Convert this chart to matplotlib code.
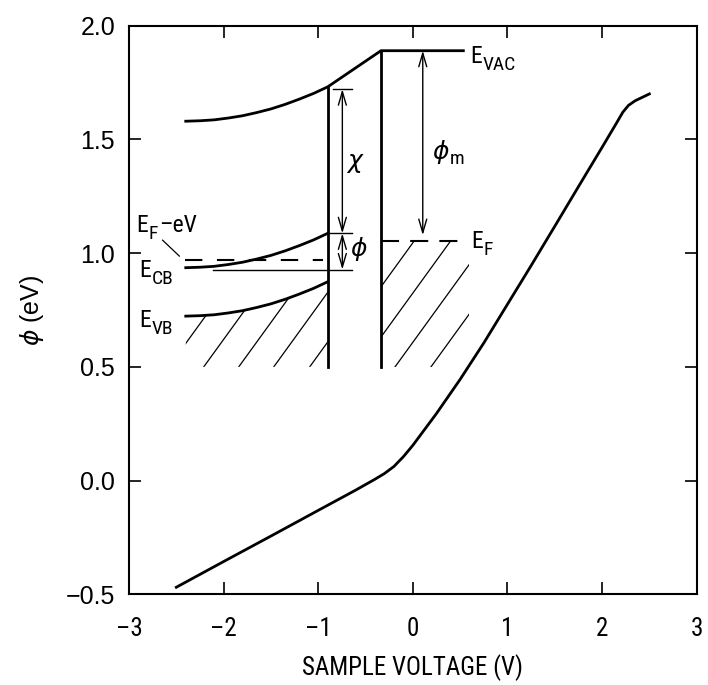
import os
import matplotlib
matplotlib.use("Agg")
import matplotlib.pyplot as plt
from matplotlib import font_manager
from matplotlib.font_manager import FontProperties
from matplotlib.patches import Polygon, FancyArrowPatch

plt.rcParams["lines.scale_dashes"] = False
plt.rcParams["mathtext.fontset"] = "dejavusans"


def find_narrow():
    fl = font_manager.fontManager.ttflist

    def regular(f):
        b = os.path.basename(f.fname).lower()
        return (f.style == "normal" and f.weight in (400, "normal", "regular")
                and "bold" not in b and "italic" not in b and "oblique" not in b)

    for p in ["Liberation Sans Narrow", "Roboto Condensed", "Open Sans Condensed",
              "DejaVu Sans Condensed"]:
        for f in fl:
            if f.name == p and regular(f):
                return f.fname
    for f in fl:
        b = os.path.basename(f.fname).lower()
        if regular(f) and ("narrow" in b or "condensed" in b) and "semi" not in b:
            return f.fname
    for f in fl:
        if regular(f) and f.stretch in ("condensed", "semi-condensed"):
            return f.fname
    return None


NARROW_FILE = find_narrow()


def nfp(size):
    if NARROW_FILE:
        return FontProperties(fname=NARROW_FILE, size=size)
    return FontProperties(family="Liberation Sans", size=size)


REG = "Liberation Sans"

# ---- main curve: surface potential vs sample voltage ----
volt = [-2.5, -2.0, -1.5, -1.0, -0.6, -0.4, -0.3, -0.2, -0.1, 0.0, 0.25, 0.5,
        0.75, 1.0, 1.25, 1.5, 1.75, 2.0, 2.15, 2.22, 2.28, 2.35, 2.5]
phi = [-0.469, -0.356, -0.244, -0.131, -0.041, 0.006, 0.031, 0.062, 0.105, 0.155,
       0.295, 0.445, 0.605, 0.775, 0.945, 1.118, 1.292, 1.465, 1.57, 1.62, 1.65,
       1.67, 1.70]

# ---- inset band diagram ----
band_x = [-2.4, -2.25, -2.1, -1.95, -1.8, -1.65, -1.5, -1.35, -1.2, -1.05, -0.9]
e_vb = [0.723, 0.725, 0.729, 0.737, 0.747, 0.761, 0.777, 0.797, 0.820, 0.845, 0.874]
e_cb = [0.936, 0.938, 0.942, 0.950, 0.960, 0.974, 0.990, 1.010, 1.033, 1.058, 1.087]
e_vac_s = [1.580, 1.582, 1.586, 1.594, 1.604, 1.618, 1.634, 1.654, 1.677, 1.702, 1.731]
gap_x = [-0.9, -0.337]          # semiconductor surface, metal tip surface
e_vac_tip = 1.89
e_f_tip = 1.054
e_f_s = 0.972
e_f_s_x = [-2.41, -0.946]
e_f_tip_x = [-0.337, 0.48]
e_vac_tip_x = [-0.337, 0.534]
ref_line_y = 0.928
ref_line_x = [-2.11, -0.646]
bottom_y = 0.5
chi_x = -0.745
chi_top = 1.721
phim_x = 0.105
phim_bot = 1.079
hatch_left = [-2.58, -2.21, -1.84, -1.47, -1.09]
hatch_right = [-0.95, -0.565, -0.188, 0.192]
hatch_slope = 0.574

fig = plt.figure(figsize=(7.08, 6.85), dpi=100)
ax = fig.add_axes([0.1822, 0.1324, 0.8018, 0.8301])

LW = 2.0
ax.plot(volt, phi, color="black", lw=LW)

# band curves
ax.plot(band_x, e_vb, color="black", lw=LW)
ax.plot(band_x, e_cb, color="black", lw=LW)
ax.plot(band_x + [gap_x[1], e_vac_tip_x[1]], e_vac_s + [e_vac_tip, e_vac_tip],
        color="black", lw=LW)
# surfaces
ax.plot([gap_x[0], gap_x[0]], [bottom_y, e_vac_s[-1]], color="black", lw=LW)
ax.plot([gap_x[1], gap_x[1]], [bottom_y, e_vac_tip], color="black", lw=LW)
# Fermi levels
ax.plot(e_f_s_x, [e_f_s, e_f_s], color="black", lw=1.5, dashes=(12.5, 10.5))
ax.plot(e_f_tip_x, [e_f_tip, e_f_tip], color="black", lw=1.5, dashes=(13, 8))
ax.plot(ref_line_x, [ref_line_y, ref_line_y], color="black", lw=1.0)
# bars of the arrows
ax.plot([-0.84, -0.646], [chi_top, chi_top], color="black", lw=1.0)
ax.plot([gap_x[0], -0.646], [e_cb[-1], e_cb[-1]], color="black", lw=1.0)


def darrow(x, y0, y1):
    a = FancyArrowPatch((x, y0), (x, y1),
                        arrowstyle="<->,head_length=0.75,head_width=0.22",
                        mutation_scale=13, lw=1.0, color="black",
                        shrinkA=0, shrinkB=0)
    ax.add_patch(a)


darrow(chi_x, chi_top, e_cb[-1])
darrow(chi_x, e_cb[-1], ref_line_y)
darrow(phim_x, e_vac_tip, phim_bot)

# hatching
clip_left = Polygon(list(zip(band_x, e_vb)) + [(band_x[-1], bottom_y), (band_x[0], bottom_y)],
                    closed=True, transform=ax.transData)
for x0 in hatch_left:
    ln, = ax.plot([x0, x0 + 1.5], [bottom_y, bottom_y + 1.5 * hatch_slope],
                  color="black", lw=0.9)
    ln.set_clip_path(clip_left)
clip_right = Polygon([(gap_x[1], bottom_y), (0.597, bottom_y), (0.597, e_f_tip),
                      (gap_x[1], e_f_tip)], closed=True, transform=ax.transData)
for x0 in hatch_right:
    ln, = ax.plot([x0, x0 + 1.5], [bottom_y, bottom_y + 1.5 * hatch_slope],
                  color="black", lw=0.9)
    ln.set_clip_path(clip_right)

# leader line
ax.plot([-2.645, -2.468], [1.057, 0.987], color="black", lw=0.9)

# labels with subscripts
MAIN = 17
SUB = 14


def sublabel(x, y, main, sub, tail=None, main_fp=None, sub_drop=-5):
    t = ax.text(x, y, main, fontproperties=main_fp or nfp(MAIN),
                ha="left", va="baseline")
    s = ax.annotate(sub, xy=(1, y), xycoords=(t, "data"),
                    xytext=(0.3, sub_drop), textcoords="offset points",
                    fontproperties=nfp(SUB), ha="left", va="baseline")
    if tail:
        ax.annotate(tail, xy=(1, y), xycoords=(s, "data"),
                    xytext=(0.8, 0), textcoords="offset points",
                    fontproperties=nfp(MAIN), ha="left", va="baseline")


sublabel(0.605, 1.837, "E", "VAC")
sublabel(0.62, 1.022, "E", "F")
sublabel(-2.92, 1.092, "E", "F", tail="\u2013eV")
sublabel(-2.89, 0.897, "E", "CB")
sublabel(-2.89, 0.676, "E", "VB")
ax.text(-0.61, 1.395, r"$\chi$", fontsize=MAIN + 1, ha="center", va="center")
ax.text(-0.575, 1.02, r"$\phi$", fontsize=MAIN + 1, ha="center", va="center")
sublabel(0.20, 1.415, r"$\phi$", "m",
         main_fp=FontProperties(family="DejaVu Sans", size=MAIN + 1),
         sub_drop=-4)

ax.set_xlim(-3, 3)
ax.set_ylim(-0.5, 2.0)
ax.set_xticks([-3, -2, -1, 0, 1, 2, 3])
ax.set_yticks([-0.5, 0.0, 0.5, 1.0, 1.5, 2.0])
ax.set_xticklabels(["\u20133", "\u20132", "\u20131", "0", "1", "2", "3"],
                   fontproperties=nfp(18))
ax.set_yticklabels(["\u22120.5", "0.0", "0.5", "1.0", "1.5", "2.0"],
                   fontsize=18, family=REG)
ax.tick_params(direction="in", length=8.5, width=1.2, top=True, right=True)
ax.tick_params(axis="x", pad=16)
ax.tick_params(axis="y", pad=10)
for s in ax.spines.values():
    s.set_linewidth(1.5)

ax.set_xlabel("SAMPLE VOLTAGE (V)", fontproperties=nfp(18), labelpad=10)
ax.set_ylabel(r"$\phi$ (eV)", fontsize=18, family=REG, labelpad=14)

fig.savefig("out.png", dpi=100)
